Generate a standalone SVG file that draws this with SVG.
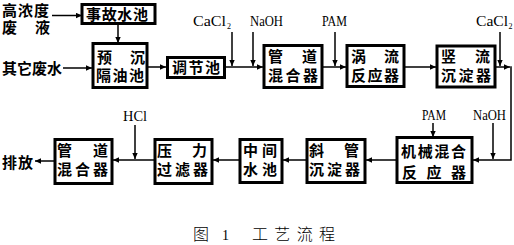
<svg xmlns="http://www.w3.org/2000/svg" width="514" height="245" viewBox="0 0 514 245">
<defs>
<style>
.bx{fill:#fff;stroke:#000;stroke-width:3}
.t{font-family:"Noto Sans CJK SC","Noto Sans",sans-serif;font-size:15px;font-weight:700;fill:#000}
.l{font-family:"Liberation Serif",serif;font-size:14px;fill:#000}
.s{font-family:"Liberation Serif",serif;font-size:8px;fill:#000}
.c{fill:none;stroke:#000;stroke-width:1.5}
.ttl{font-family:"Noto Sans CJK SC",sans-serif;font-size:16px;font-weight:300;fill:#000}
</style>
<marker id="a" viewBox="0 0 10 10" refX="10" refY="5" markerWidth="7" markerHeight="6" orient="auto" markerUnits="userSpaceOnUse">
<path d="M0,0.5 L10,5 L0,9.5 z" fill="#000"/>
</marker>
</defs>
<rect width="514" height="245" fill="#fff"/>

<g id="src1"><text class="t" x="2" y="15.5" textLength="47" lengthAdjust="spacing">高浓度</text><text class="t" x="2 35" y="33">废液</text></g>
<g id="src2"><text class="t" x="2" y="73.5" textLength="60" lengthAdjust="spacing">其它废水</text></g>
<g id="out"><text class="t" x="2" y="167.5" textLength="31" lengthAdjust="spacing">排放</text></g>

<g id="n1"><rect class="bx" x="82" y="4.5" width="73" height="19"/><text class="t" x="86" y="19.5" textLength="62" lengthAdjust="spacing">事故水池</text></g>
<g id="n2"><rect class="bx" x="93" y="43.5" width="54" height="44"/><text class="t" x="97 130" y="63">预沉</text><text class="t" x="96" y="81" textLength="48" lengthAdjust="spacing">隔油池</text></g>
<g id="n3"><rect class="bx" x="167.5" y="57.5" width="57" height="20"/><text class="t" x="172" y="73" textLength="48" lengthAdjust="spacing">调节池</text></g>
<g id="n4"><rect class="bx" x="264" y="45.5" width="58" height="42"/><text class="t" x="268 302" y="62">管道</text><text class="t" x="268" y="81" textLength="50" lengthAdjust="spacing">混合器</text></g>
<g id="n5"><rect class="bx" x="347" y="45.5" width="57" height="41"/><text class="t" x="351 384" y="62">涡流</text><text class="t" x="351" y="81" textLength="48" lengthAdjust="spacing">反应器</text></g>
<g id="n6"><rect class="bx" x="437" y="46" width="58" height="41"/><text class="t" x="441 475" y="62">竖流</text><text class="t" x="441" y="81" textLength="50" lengthAdjust="spacing">沉淀器</text></g>
<g id="n7"><rect class="bx" x="397" y="137.5" width="75" height="45"/><text class="t" x="401" y="157" textLength="65" lengthAdjust="spacing">机械混合</text><text class="t" x="402" y="178" textLength="64" lengthAdjust="spacing">反应器</text></g>
<g id="n8"><rect class="bx" x="307" y="139.5" width="58" height="43"/><text class="t" x="309 344" y="156">斜管</text><text class="t" x="309" y="175" textLength="51" lengthAdjust="spacing">沉淀器</text></g>
<g id="n9"><rect class="bx" x="240" y="139.5" width="42" height="43"/><text class="t" x="243" y="156" textLength="34" lengthAdjust="spacing">中间</text><text class="t" x="243" y="175" textLength="34" lengthAdjust="spacing">水池</text></g>
<g id="n10"><rect class="bx" x="155" y="139.5" width="57" height="44"/><text class="t" x="157 192" y="156">压力</text><text class="t" x="157" y="175" textLength="51" lengthAdjust="spacing">过滤器</text></g>
<g id="n11"><rect class="bx" x="55" y="139.5" width="57" height="44"/><text class="t" x="57 93" y="156">管道</text><text class="t" x="57" y="175" textLength="51" lengthAdjust="spacing">混合器</text></g>

<g id="labels">
<text class="l" x="193" y="26" textLength="33" lengthAdjust="spacingAndGlyphs">CaCl</text><text class="s" x="227" y="29">2</text>
<text class="l" x="250" y="26" textLength="33" lengthAdjust="spacingAndGlyphs">NaOH</text>
<text class="l" x="322" y="26" textLength="25" lengthAdjust="spacingAndGlyphs">PAM</text>
<text class="l" x="476" y="26" textLength="32" lengthAdjust="spacingAndGlyphs">CaCl</text><text class="s" x="508.5" y="29">2</text>
<text class="l" x="422" y="120" textLength="24" lengthAdjust="spacingAndGlyphs">PAM</text>
<text class="l" x="473" y="120" textLength="33" lengthAdjust="spacingAndGlyphs">NaOH</text>
<text class="l" x="123" y="121" textLength="24" lengthAdjust="spacingAndGlyphs">HCl</text>
</g>

<g id="connectors">
<path class="c" d="M52,15.5 H82" marker-end="url(#a)"/>
<path class="c" d="M118,23.5 V43" marker-end="url(#a)"/>
<path class="c" d="M63,68 H92" marker-end="url(#a)"/>
<path class="c" d="M148,67 H166" marker-end="url(#a)"/>
<path class="c" d="M226,67 H263" marker-end="url(#a)"/>
<path class="c" d="M232,32 V66" marker-end="url(#a)"/>
<path class="c" d="M253,32 V66" marker-end="url(#a)"/>
<path class="c" d="M323,67 H346" marker-end="url(#a)"/>
<path class="c" d="M335,32 V66" marker-end="url(#a)"/>
<path class="c" d="M405,67 H436" marker-end="url(#a)"/>
<path class="c" d="M500,32 V66" marker-end="url(#a)"/>
<path class="c" d="M496,67 H510" marker-end="url(#a)"/>
<path class="c" d="M511,66.3 V160 H473" marker-end="url(#a)"/>
<path class="c" d="M493,123 V159" marker-end="url(#a)"/>
<path class="c" d="M433,123 V137" marker-end="url(#a)"/>
<path class="c" d="M396,160 H366" marker-end="url(#a)"/>
<path class="c" d="M306,160 H283" marker-end="url(#a)"/>
<path class="c" d="M239,160 H213" marker-end="url(#a)"/>
<path class="c" d="M154,160 H113" marker-end="url(#a)"/>
<path class="c" d="M135,125 V159" marker-end="url(#a)"/>
<path class="c" d="M54,161 H35" marker-end="url(#a)"/>
</g>

<g id="title">
<text class="ttl" x="193" y="240">图</text>
<text class="l" x="222" y="240" font-size="16">1</text>
<text class="ttl" x="252" y="240" textLength="83" lengthAdjust="spacing">工艺流程</text>
</g>
</svg>
